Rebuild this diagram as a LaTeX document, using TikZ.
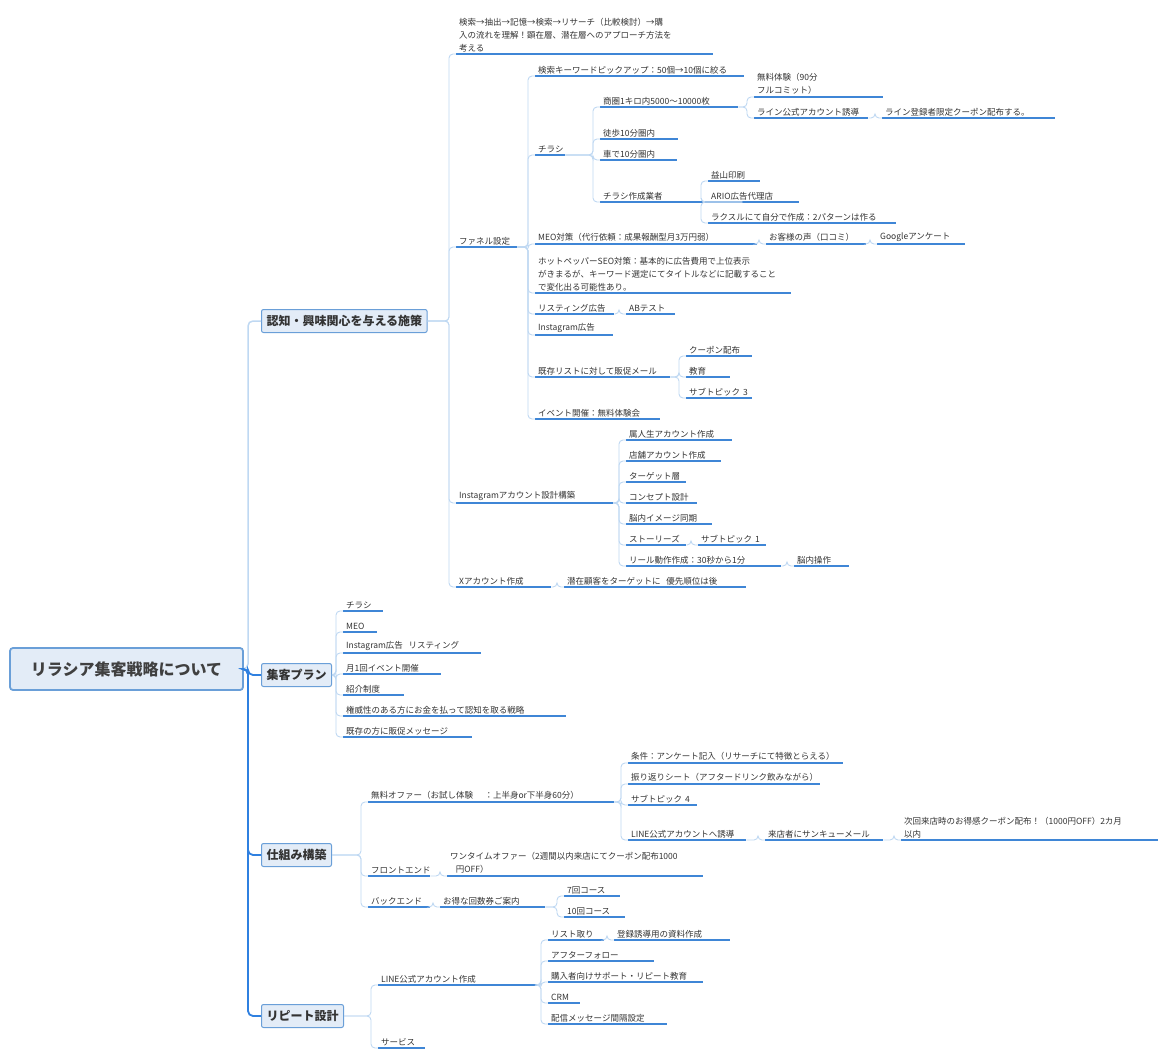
\documentclass[tikz,border=0pt]{standalone}
\usepackage{fontspec}
\setmainfont{Noto Sans CJK JP}
\definecolor{ulc}{HTML}{3F86D6}
\definecolor{cnc}{HTML}{BFD8F2}
\definecolor{bxd}{HTML}{6A9FD8}
\definecolor{bxf}{HTML}{E3ECF7}
\definecolor{spn}{HTML}{2F80E0}
\tikzset{
 leaf/.style={anchor=south west,inner xsep=3pt,inner ysep=2pt,align=left,font=\fontsize{8.5}{13}\selectfont,text=black!80},
 ul/.style={draw=ulc,line width=1.2pt},
 conn/.style={draw=cnc,line width=0.9pt,rounded corners=4pt},
 br/.style={draw=bxd,fill=bxf,rounded corners=2pt,line width=1pt,font=\fontsize{12}{14}\selectfont\bfseries,inner sep=5pt,text=black!80},
}
\newcommand\lf[5]{\node[leaf,text width=#3pt] (#1) at (#2,#4) {#5};\draw[ul] (#1.south west) -- (#1.south east);}
\newcommand\cn[2]{\draw[conn] (#2.south west) -- ++(-7,0) |- (#1);}
\begin{document}
\begin{tikzpicture}[x=1pt,y=-1pt]
\useasboundingbox (0,0) rectangle (1168,1057);
% main
\node[draw=bxd,fill=bxf,rounded corners=3pt,line width=1.8pt,minimum width=233pt,minimum height=42pt,font=\fontsize{16}{18}\selectfont\bfseries,text=black!75] (main) at (126.5,669) {リラシア集客戦略について};
\node[br,anchor=west,minimum height=23pt] (b1) at (261,321) {認知・興味関心を与える施策};
\node[br,anchor=west,minimum height=23pt] (b2) at (261,675) {集客プラン};
\node[br,anchor=west,minimum height=23pt] (b3) at (261,855) {仕組み構築};
\node[br,anchor=west,minimum height=23pt] (b4) at (261,1016) {リピート設計};
\draw[draw=cnc,line width=1.5pt,rounded corners=5pt] (b1.west) -- ++(-13,0) |- (main.east);
\draw[draw=spn,line width=1.8pt,rounded corners=5pt] (b2.west) -- ++(-13,0) |- (main.east);
\draw[draw=spn,line width=1.8pt,rounded corners=5pt] (b3.west) -- ++(-13,0) |- (main.east);
\draw[draw=spn,line width=1.8pt,rounded corners=5pt] (b4.west) -- ++(-13,0) |- (main.east);
% B1
\lf{a1}{456}{251}{54}{検索→抽出→記憶→検索→リサーチ（比較検討）→購\\入の流れを理解！顕在層、潜在層へのアプローチ方法を\\考える}
\lf{a2}{456}{55}{247}{ファネル設定}
\lf{a3}{456}{151}{503}{Instagramアカウント設計構築}
\lf{a4}{456}{89}{587}{Xアカウント作成}
\foreach \c in {a1,a2,a3,a4}{\cn{b1.east}{\c}}
\lf{f1}{535}{203}{76}{検索キーワードピックアップ：50個→10個に絞る}
\lf{f2}{535}{24}{155}{チラシ}
\lf{f3}{535}{216}{244}{MEO対策（代行依頼：成果報酬型月3万円弱）}
\lf{f4}{535}{250}{293}{ホットペッパーSEO対策：基本的に広告費用で上位表示\\がきまるが、キーワード選定にてタイトルなどに記載すること\\で変化出る可能性あり。}
\lf{f5}{535}{73}{314}{リスティング広告}
\lf{f6}{535}{72}{335}{Instagram広告}
\lf{f7}{535}{129}{377}{既存リストに対して販促メール}
\lf{f8}{535}{119}{419}{イベント開催：無料体験会}
\foreach \c in {f1,f2,f3,f4,f5,f6,f7,f8}{\cn{a2.south east}{\c}}
\lf{t1}{600}{132}{107}{商圏1キロ内5000〜10000枚}
\lf{t2}{600}{72}{139}{徒歩10分圏内}
\lf{t3}{600}{71}{160}{車で10分圏内}
\lf{t4}{600}{136}{202}{チラシ作成業者}
\foreach \c in {t1,t2,t3,t4}{\cn{f2.south east}{\c}}
\lf{s1}{754}{123}{97}{無料体験（90分\ \ フルコミット）}
\lf{s2}{754}{108}{118}{ライン公式アカウント誘導}
\foreach \c in {s1,s2}{\cn{t1.south east}{\c}}
\lf{s3}{882}{167}{118}{ライン登録者限定クーポン配布する。}
\cn{s2.south east}{s3}
\lf{g1}{708}{46}{181}{益山印刷}
\lf{g2}{708}{85}{202}{ARIO広告代理店}
\lf{g3}{708}{182}{223}{ラクスルにて自分で作成：2パターンは作る}
\foreach \c in {g1,g2,g3}{\cn{t4.south east}{\c}}
\lf{m1}{766}{94}{244}{お客様の声（口コミ）}
\cn{f3.south east}{m1}
\lf{m2}{877}{82}{244}{Googleアンケート}
\cn{m1.south east}{m2}
\lf{r1}{626}{43}{314}{ABテスト}
\cn{f5.south east}{r1}
\lf{k1}{686}{60}{356}{クーポン配布}
\lf{k2}{686}{38}{377}{教育}
\lf{k3}{686}{60}{398}{サブトピック 3}
\foreach \c in {k1,k2,k3}{\cn{f7.south east}{\c}}
\lf{i1}{626}{100}{440}{属人生アカウント作成}
\lf{i2}{626}{89}{461}{店舗アカウント作成}
\lf{i3}{626}{54}{482}{ターゲット層}
\lf{i4}{626}{65}{503}{コンセプト設計}
\lf{i5}{626}{80}{524}{脳内イメージ同期}
\lf{i6}{626}{54}{545}{ストーリーズ}
\lf{i7}{626}{149}{566}{リール動作作成：30秒から1分}
\foreach \c in {i1,i2,i3,i4,i5,i6,i7}{\cn{a3.south east}{\c}}
\lf{j1}{698}{62}{545}{サブトピック 1}
\cn{i6.south east}{j1}
\lf{j2}{794}{49}{566}{脳内操作}
\cn{i7.south east}{j2}
\lf{x1}{564}{176}{587}{潜在顧客をターゲットに\ \ 優先順位は後}
\cn{a4.south east}{x1}
% B2
\lf{p1}{343}{34}{611}{チラシ}
\lf{p2}{343}{28}{632}{MEO}
\lf{p3}{343}{132}{653}{Instagram広告\ \ リスティング}
\lf{p4}{343}{92}{674}{月1回イベント開催}
\lf{p5}{343}{55}{695}{紹介制度}
\lf{p6}{343}{217}{716}{権威性のある方にお金を払って認知を取る戦略}
\lf{p7}{343}{123}{737}{既存の方に販促メッセージ}
\foreach \c in {p1,p2,p3,p4,p5,p6,p7}{\cn{b2.east}{\c}}
% B3
\lf{q1}{368}{240}{802}{無料オファー（お試し体験\ \ \ \ ：上半身or下半身60分）}
\lf{q2}{368}{56}{876}{フロントエンド}
\lf{q3}{368}{56}{907}{バックエンド}
\foreach \c in {q1,q2,q3}{\cn{b3.east}{\c}}
\lf{o1}{628}{209}{763}{条件：アンケート記入（リサーチにて特徴とらえる）}
\lf{o2}{628}{186}{784}{振り返りシート（アフタードリンク飲みながら）}
\lf{o3}{628}{63}{805}{サブトピック 4}
\lf{o4}{628}{112}{840}{LINE公式アカウントへ誘導}
\foreach \c in {o1,o2,o3,o4}{\cn{q1.south east}{\c}}
\lf{o5}{765}{112}{840}{来店者にサンキューメール}
\cn{o4.south east}{o5}
\lf{o6}{901}{251}{840}{次回来店時のお得感クーポン配布！（1000円OFF）2カ月\\以内}
\cn{o5.south east}{o6}
\lf{w1}{447}{250}{876}{ワンタイムオファー（2週間以内来店にてクーポン配布1000\\\ \ 円OFF）}
\cn{q2.south east}{w1}
\lf{w2}{440}{99}{907}{お得な回数券ご案内}
\cn{q3.south east}{w2}
\lf{w3}{564}{50}{896}{7回コース}
\lf{w4}{564}{55}{917}{10回コース}
\foreach \c in {w3,w4}{\cn{w2.south east}{\c}}
% B4
\lf{l1}{378}{156}{985}{LINE公式アカウント作成}
\lf{l2}{378}{41}{1048}{サービス}
\foreach \c in {l1,l2}{\cn{b4.east}{\c}}
\lf{n1}{548}{50}{940}{リスト取り}
\lf{n2}{548}{100}{961}{アフターフォロー}
\lf{n3}{548}{149}{982}{購入者向けサポート・リピート教育}
\lf{n4}{548}{26}{1003}{CRM}
\lf{n5}{548}{113}{1024}{配信メッセージ間隔設定}
\foreach \c in {n1,n2,n3,n4,n5}{\cn{l1.south east}{\c}}
\lf{n6}{614}{110}{940}{登録誘導用の資料作成}
\cn{n1.south east}{n6}
\end{tikzpicture}
\end{document}
